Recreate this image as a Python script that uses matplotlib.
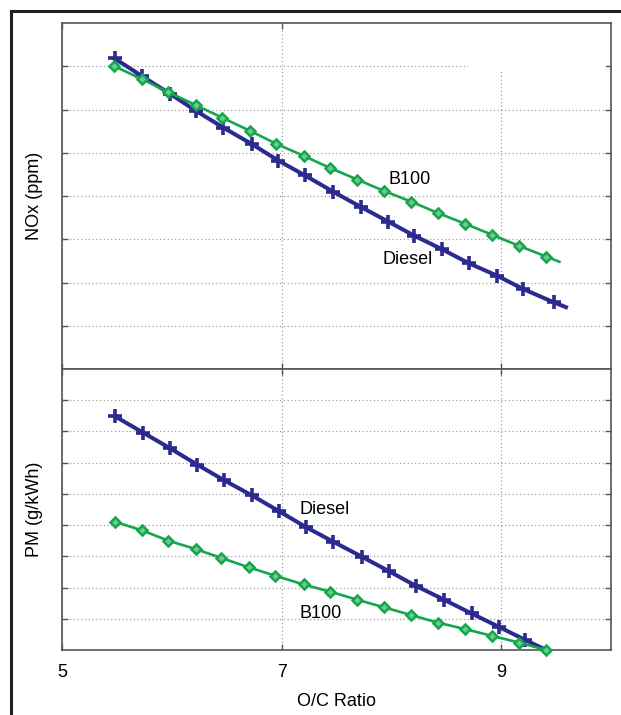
import matplotlib
matplotlib.use("Agg")
import matplotlib.pyplot as plt
from matplotlib.patches import Rectangle
from matplotlib.lines import Line2D

plt.rcParams['font.family'] = ['Liberation Sans', 'DejaVu Sans']

# O/C ratio sample points (last entry is where the curve ends, no marker)
diesel_nox_x = [5.48, 5.73, 5.98, 6.22, 6.47, 6.73, 6.97, 7.21, 7.47, 7.72,
                7.97, 8.21, 8.46, 8.71, 8.96, 9.20, 9.48, 9.59]
diesel_nox = [7.18, 6.77, 6.37, 5.97, 5.58, 5.20, 4.82, 4.48, 4.10, 3.75,
              3.41, 3.08, 2.77, 2.44, 2.16, 1.85, 1.54, 1.43]

b100_nox_x = [5.47, 5.73, 5.97, 6.22, 6.46, 6.71, 6.95, 7.20, 7.44, 7.69,
              7.93, 8.18, 8.42, 8.67, 8.92, 9.16, 9.41, 9.53]
b100_nox = [7.01, 6.70, 6.40, 6.10, 5.81, 5.51, 5.21, 4.93, 4.65, 4.38,
            4.12, 3.87, 3.61, 3.36, 3.10, 2.85, 2.60, 2.48]

diesel_pm_x = [5.48, 5.74, 5.98, 6.23, 6.48, 6.73, 6.98, 7.22, 7.47, 7.73,
               7.98, 8.22, 8.48, 8.73, 8.98, 9.22, 9.41]
diesel_pm = [7.49, 6.96, 6.47, 5.94, 5.43, 4.95, 4.44, 3.94, 3.47, 2.99,
             2.52, 2.06, 1.61, 1.17, 0.74, 0.32, 0.0]

b100_pm_x = [5.48, 5.73, 5.97, 6.22, 6.45, 6.70, 6.94, 7.20, 7.44, 7.69,
             7.93, 8.18, 8.42, 8.67, 8.92, 9.16, 9.41]
b100_pm = [4.11, 3.83, 3.50, 3.23, 2.95, 2.65, 2.38, 2.10, 1.87, 1.61,
           1.37, 1.12, 0.88, 0.67, 0.45, 0.24, 0.0]

x_ticks = [5, 7, 9]

BLUE = '#2b2a8e'
GREEN = '#14a64c'
FRAME = '#555555'

fig = plt.figure(figsize=(6.21, 7.15), dpi=100)

# outer frame (left and top edges only visible)
fig.add_artist(Line2D([0.0177, 0.0177], [0.0, 0.9846], color='#222222', lw=2.2))
fig.add_artist(Line2D([0.0177, 1.0], [0.9846, 0.9846], color='#222222', lw=2.2))

ax1 = fig.add_axes([0.0998, 0.4839, 0.8841, 0.4839])
ax2 = fig.add_axes([0.0998, 0.0909, 0.8841, 0.3930])


def style_axis(ax, ymax):
    ax.set_xlim(5, 10)
    ax.set_ylim(0, ymax)
    ax.set_xticks(x_ticks)
    ax.set_yticks(range(1, ymax))
    ax.tick_params(direction='in', length=4, width=1, color=FRAME,
                   top=True, right=True, labelleft=False, labelsize=13)
    for sp in ax.spines.values():
        sp.set_color(FRAME)
        sp.set_linewidth(1.2)
    ax.grid(True, color='#a0a0a0', linestyle=(0, (1, 2)), linewidth=0.9)
    ax.set_axisbelow(True)


style_axis(ax1, 8)
style_axis(ax2, 9)
ax1.tick_params(labelbottom=False)

# white patch that hides part of the grid in the top panel
ax1.add_patch(Rectangle((8.7, 6.9), 1.25, 1.1, facecolor='white',
                        edgecolor='none', zorder=1.5))

ax1.plot(diesel_nox_x, diesel_nox, color=BLUE, lw=2.9, marker='+', ms=10,
         mew=2.6, markevery=slice(0, len(diesel_nox_x) - 1), zorder=3)
ax1.plot(b100_nox_x, b100_nox, color=GREEN, lw=1.9, marker='D', ms=5.5,
         mew=1.8, mfc='#6cc98f', mec=GREEN,
         markevery=slice(0, len(b100_nox_x) - 1), zorder=4)
ax1.text(8.17, 4.38, 'B100', fontsize=13, ha='center', va='center')
ax1.text(8.15, 2.53, 'Diesel', fontsize=13, ha='center', va='center')
ax1.set_ylabel('NOx (ppm)', fontsize=13, labelpad=14)

ax2.plot(diesel_pm_x, diesel_pm, color=BLUE, lw=2.9, marker='+', ms=10,
         mew=2.6, markevery=slice(0, len(diesel_pm_x) - 1), zorder=3,
         clip_on=False)
ax2.plot(b100_pm_x, b100_pm, color=GREEN, lw=1.9, marker='D', ms=5.5,
         mew=1.8, mfc='#6cc98f', mec=GREEN, zorder=4, clip_on=False)
ax2.text(7.39, 4.5, 'Diesel', fontsize=13, ha='center', va='center')
ax2.text(7.36, 1.18, 'B100', fontsize=13, ha='center', va='center')
ax2.set_ylabel('PM (g/kWh)', fontsize=13, labelpad=14)
ax2.set_xlabel('O/C Ratio', fontsize=13, labelpad=9)
ax2.tick_params(axis='x', pad=10)

fig.savefig('out.png', dpi=100)
